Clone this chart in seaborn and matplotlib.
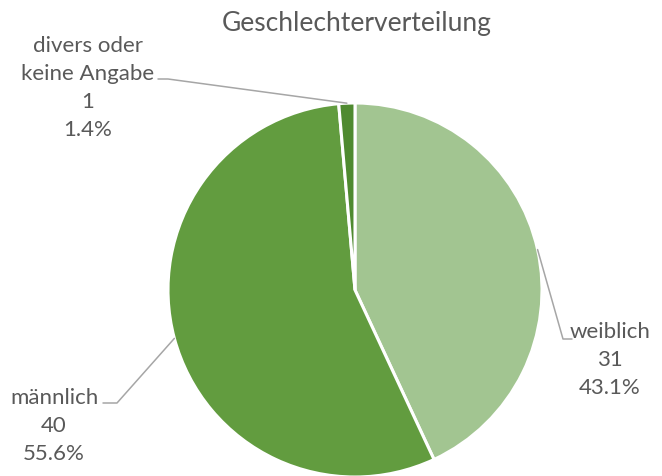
import numpy as np
import matplotlib.pyplot as plt
import seaborn as sns

categories = ["weiblich", "männlich", "divers oder\nkeine Angabe"]
counts = [31, 40, 1]
colors = ["#A2C591", "#629C3F", "#4F8A30"]

sns.set_theme(style="white")
plt.rcParams["font.family"] = ["Lato", "DejaVu Sans"]
TXT = "#595959"
LINE = "#A6A6A6"

W, H = 662, 476
CX, CY, R = 355, 290, 187  # pie centre / radius in pixels


def px(x, y):
    # pixel position -> pie data coords
    return (x - CX) / R, (CY - y) / R


fig = plt.figure(figsize=(W / 100, H / 100), dpi=100)
ax = fig.add_axes([(CX - R) / W, (H - CY - R) / H, 2 * R / W, 2 * R / H])

wedges, _ = ax.pie(
    counts,
    colors=colors,
    startangle=90,
    counterclock=False,
    radius=1,
    wedgeprops=dict(edgecolor="white", linewidth=2.2),
)
ax.set_xlim(-1, 1)
ax.set_ylim(-1, 1)
ax.axis("off")

total = sum(counts)
# elbow and end of each leader line, and label centre (pixels)
leaders = [
    ((563, 339), (572, 339), (610, 360)),
    ((117, 403), (103, 403), (54, 426)),
    ((168, 79), (158, 79), (88, 88)),
]

for w, cat, n, (elb, end, lab) in zip(wedges, categories, counts, leaders):
    mid = np.deg2rad((w.theta1 + w.theta2) / 2)
    sx, sy = np.cos(mid), np.sin(mid)
    ex, ey = px(*elb)
    tx, ty = px(*end)
    ax.plot([sx, ex, tx], [sy, ey, ty], color=LINE, lw=1.1, clip_on=False)
    lx, ly = px(*lab)
    ax.text(lx, ly, f"{cat}\n{n}\n{n / total * 100:.1f}%", ha="center", va="center",
            fontsize=16, color=TXT, linespacing=1.5, clip_on=False)

fig.text(357 / W, 1 - 23 / H, "Geschlechterverteilung", ha="center", va="center",
         fontsize=19, color=TXT)

fig.savefig("out.png", dpi=100)
